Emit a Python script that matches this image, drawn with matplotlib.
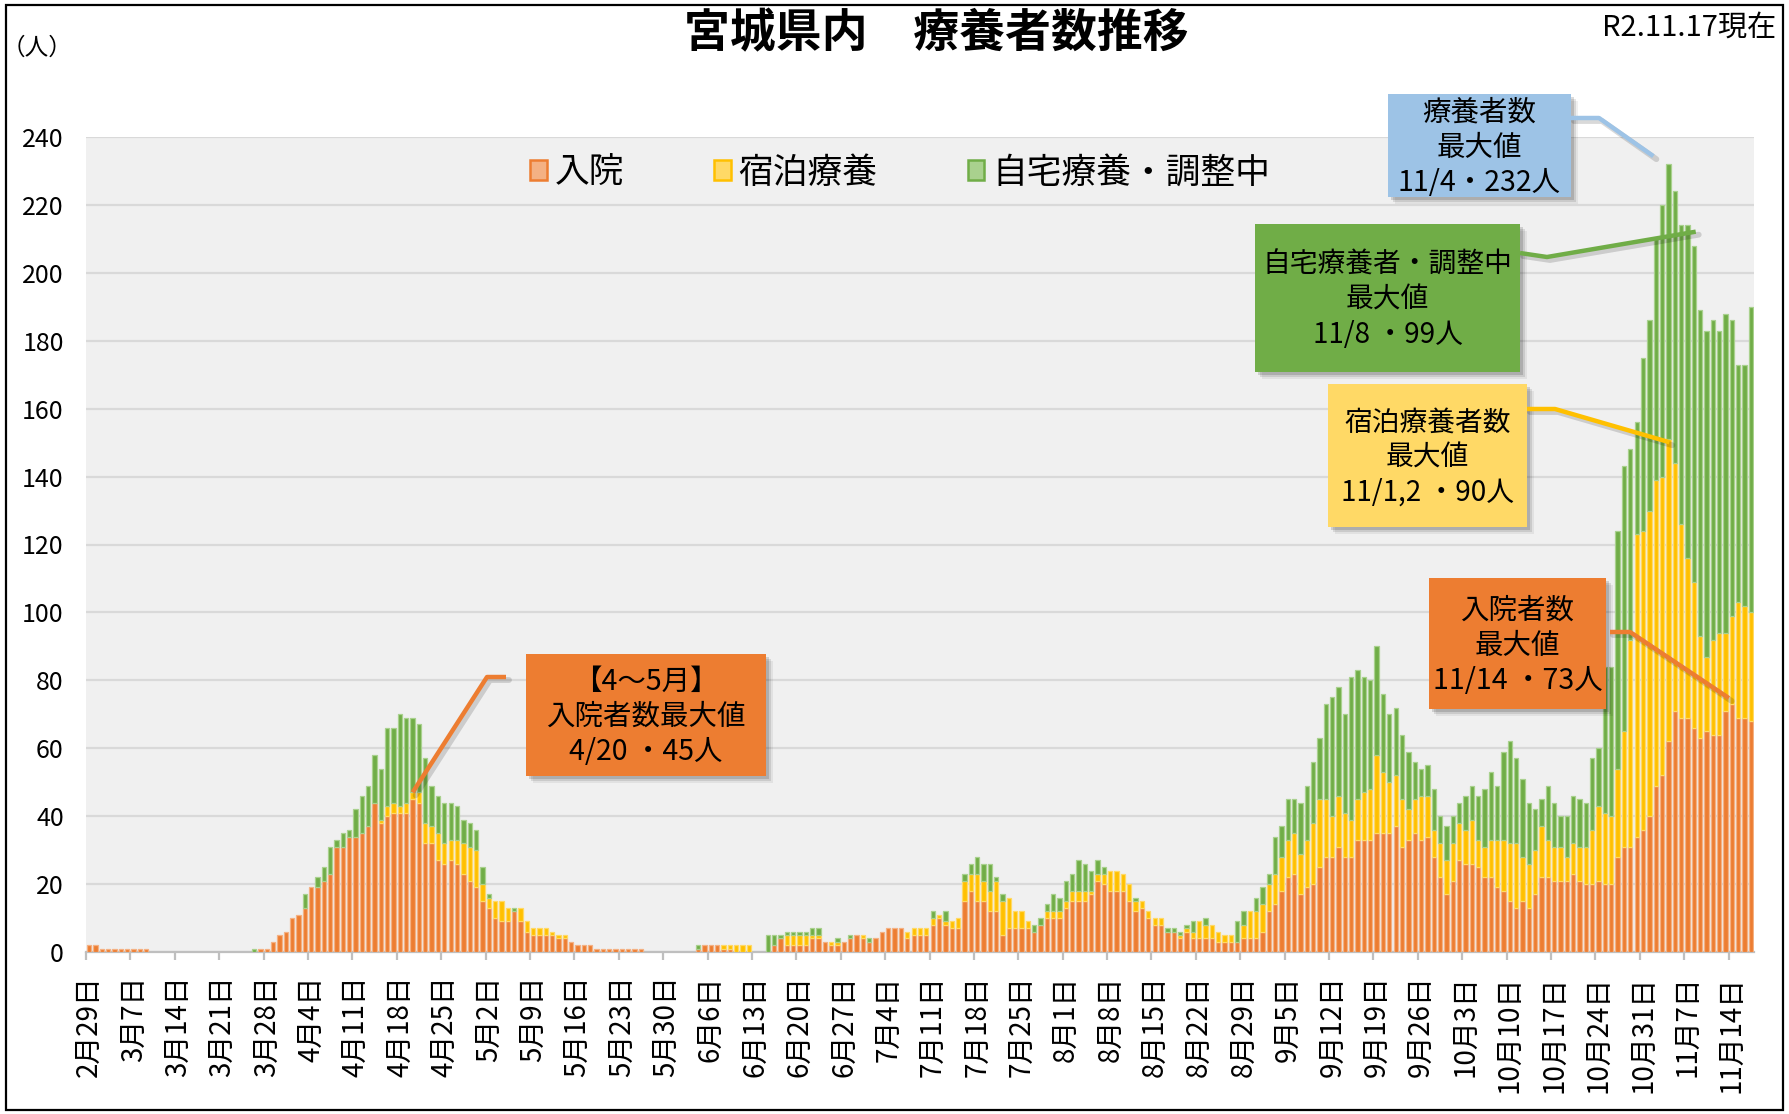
import numpy as np
import pandas as pd
import matplotlib
matplotlib.use("Agg")
import matplotlib.pyplot as plt
from matplotlib.patches import Rectangle, Patch
from matplotlib.lines import Line2D

plt.rcParams['font.family'] = ['Noto Sans CJK JP', 'DejaVu Sans']

# ---------------- data ----------------
start_date = "2020-02-29"
end_date = "2020-11-17"
series_names = ["入院", "宿泊療養", "自宅療養・調整中"]

hospital = (
    [2]  # Feb 29
    + [2, 1, 1, 1, 1, 1, 1, 1, 1, 0, 0, 0, 0, 0, 0, 0, 0, 0, 0, 0, 0, 0, 0, 0, 0, 0, 1, 1, 3, 5, 6]  # Mar
    + [10, 11, 13, 19, 19, 21, 23, 31, 31, 34, 34, 35, 37, 44, 38, 40, 41, 41, 41, 45,
       44, 32, 32, 27, 26, 27, 26, 23, 21, 19]  # Apr
    + [15, 13, 10, 9, 9, 12, 9, 6, 5, 5, 5, 5, 4, 4, 3, 2, 2, 2, 1, 1,
       1, 1, 1, 1, 1, 1, 0, 0, 0, 0, 0]  # May
    + [0, 0, 0, 1, 2, 2, 2, 1, 1, 0, 0, 0, 0, 0, 0, 2, 4, 2, 2, 2,
       2, 4, 4, 3, 2, 2, 3, 4, 5, 4]  # Jun
    + [3, 4, 6, 7, 7, 7, 4, 5, 5, 5, 8, 10, 8, 7, 7, 15, 18, 15, 15, 12,
       12, 5, 7, 7, 7, 7, 6, 8, 10, 10, 10]  # Jul
    + [13, 15, 15, 15, 17, 21, 20, 18, 18, 18, 15, 12, 13, 10, 8, 8, 6, 6, 4, 6,
       4, 4, 4, 4, 3, 3, 3, 3, 4, 4, 4]  # Aug
    + [6, 12, 14, 18, 22, 23, 17, 19, 20, 25, 28, 28, 31, 28, 28, 33, 33, 33, 35, 35,
       35, 37, 31, 33, 35, 33, 34, 28, 22, 17]  # Sep
    + [21, 27, 26, 26, 25, 22, 22, 19, 18, 15, 13, 15, 13, 17, 22, 22, 21, 21, 21, 23,
       21, 20, 20, 21, 20, 20, 28, 31, 31, 34, 36]  # Oct
    + [40, 49, 52, 62, 71, 69, 69, 66, 63, 65, 64, 64, 71, 73, 69, 69, 68]  # Nov
)

hotel = (
    [0]
    + [0] * 31
    + [0, 0, 0, 0, 0, 0, 0, 0, 0, 0, 0, 0, 0, 0, 1, 3, 3, 2, 3, 2,
       3, 6, 5, 8, 6, 6, 7, 9, 10, 11]
    + [5, 3, 5, 6, 4, 0, 4, 3, 2, 2, 2, 1, 1, 1, 0, 0, 0, 0, 0, 0,
       0, 0, 0, 0, 0, 0, 0, 0, 0, 0, 0]
    + [0, 0, 0, 0, 0, 0, 0, 1, 1, 2, 2, 2, 0, 0, 0, 0, 0, 3, 3, 3,
       3, 1, 1, 0, 1, 1, 0, 0, 0, 1]
    + [0, 0, 0, 0, 0, 0, 2, 2, 2, 2, 2, 1, 1, 2, 3, 6, 5, 8, 6, 6,
       9, 10, 9, 5, 5, 2, 0, 0, 2, 2, 2]
    + [2, 3, 3, 3, 1, 2, 3, 6, 6, 5, 5, 3, 2, 2, 2, 2, 0, 0, 1, 1,
       2, 5, 4, 4, 3, 2, 2, 0, 4, 8, 8]
    + [8, 8, 9, 10, 11, 12, 12, 14, 18, 20, 17, 12, 15, 13, 11, 12, 14, 15, 23, 18,
       15, 15, 14, 9, 10, 13, 12, 8, 10, 10]
    + [11, 11, 10, 13, 8, 9, 11, 14, 15, 17, 19, 13, 13, 13, 15, 11, 10, 10, 7, 9,
       10, 11, 16, 22, 21, 20, 26, 34, 61, 89, 88]
    + [90, 90, 88, 89, 73, 57, 47, 43, 30, 22, 28, 30, 23, 26, 34, 33, 32]
)

home = (
    [0]
    + [0] * 25 + [1] + [0] * 5
    + [0, 0, 4, 0, 3, 4, 8, 2, 4, 2, 8, 11, 12, 14, 15, 23, 22, 27, 25, 22,
       20, 19, 12, 11, 12, 11, 10, 7, 7, 6]
    + [5, 1, 0, 0, 0, 1, 0, 0, 0, 0, 0, 0, 0, 0, 0, 0, 0, 0, 0, 0,
       0, 0, 0, 0, 0, 0, 0, 0, 0, 0, 0]
    + [0, 0, 0, 1, 0, 0, 0, 0, 0, 0, 0, 0, 0, 0, 5, 3, 1, 1, 1, 1,
       1, 2, 2, 0, 0, 1, 0, 1, 0, 0]
    + [1, 0, 0, 0, 0, 0, 0, 0, 0, 0, 2, 0, 3, 0, 0, 2, 3, 5, 5, 8,
       1, 2, 0, 0, 0, 0, 2, 2, 2, 5, 4]
    + [6, 5, 9, 8, 6, 4, 2, 0, 0, 0, 0, 1, 0, 0, 0, 0, 1, 1, 1, 1,
       3, 0, 2, 0, 0, 0, 0, 6, 4, 0, 4]
    + [5, 3, 11, 9, 12, 10, 15, 16, 18, 18, 28, 35, 32, 29, 42, 38, 34, 32, 32, 23,
       20, 20, 19, 17, 11, 8, 9, 12, 8, 10]
    + [8, 6, 10, 10, 13, 17, 20, 16, 26, 30, 25, 23, 18, 12, 8, 16, 13, 9, 12, 14,
       14, 13, 21, 17, 43, 44, 70, 78, 56, 33, 51]
    + [56, 71, 80, 81, 80, 88, 98, 99, 96, 96, 94, 89, 94, 87, 70, 71, 90]
)

y_ticks = list(range(0, 241, 20))

# ---------------- setup ----------------
dates = pd.date_range(start_date, end_date, freq="D")
hosp = np.array(hospital, dtype=float)
hot = np.array(hotel, dtype=float)
hom = np.array(home, dtype=float)
n = len(dates)
assert len(hosp) == n and len(hot) == n and len(hom) == n
x = np.arange(n)
total = hosp + hot + hom

W, H = 1790, 1114
fig = plt.figure(figsize=(W / 100, H / 100), dpi=100)
fig.patch.set_facecolor("white")


def fx(px):
    return px / W


def fy(py):
    return 1 - py / H


ax = fig.add_axes([fx(86), fy(952), fx(1754) - fx(86), fy(137) - fy(952)])
ax.set_facecolor("#F0F0F0")

colors = ["#ED7D31", "#FFC000", "#70AD47"]
edges = ["#F4B183", "#FFD966", "#A9D18E"]
bw = 0.68

bottoms = [np.zeros(n), hosp, hosp + hot]
for vals, bot, c, e in zip([hosp, hot, hom], bottoms, colors, edges):
    m = vals > 0
    ax.bar(x[m], vals[m], bottom=bot[m], width=bw, color=c, edgecolor=e,
           linewidth=0.9, zorder=3)

ax.set_xlim(-0.5, n - 0.5)
ax.set_ylim(0, 240)
ax.set_yticks(y_ticks)
ax.yaxis.grid(True, color="#D9D9D9", linewidth=1.6, zorder=0)
ax.set_axisbelow(True)
for s in ["left", "top", "right"]:
    ax.spines[s].set_visible(False)
ax.spines["bottom"].set_color("#BFBFBF")
ax.spines["bottom"].set_linewidth(1.6)
ax.tick_params(axis="y", length=0, pad=16, labelsize=18)

lab_idx = np.arange(0, n, 7)
ax.set_xticks(lab_idx)
ax.set_xticklabels([f"{d.month}月{d.day}日" for d in dates[lab_idx]],
                   rotation=90, fontsize=20)
ax.set_xticks(lab_idx - 0.5, minor=True)
ax.tick_params(axis="x", which="major", length=0, pad=17)
ax.tick_params(axis="x", which="minor", length=6, color="#BFBFBF", width=1.6)

# ---------------- texts ----------------
fig.text(fx(936), fy(34), "宮城県内　療養者数推移", ha="center", va="center",
         fontsize=33, fontweight="bold")
fig.text(fx(1776), fy(28), "R2.11.17現在", ha="right", va="center", fontsize=21)
fig.text(fx(37), fy(48), "（人）", ha="center", va="center", fontsize=17)

handles = [Patch(facecolor=e, edgecolor=c, linewidth=1.8) for c, e in zip(colors, edges)]
fig.legend(handles, series_names, loc="center", bbox_to_anchor=(fx(900), fy(173)),
           ncol=3, frameon=False, fontsize=25, handlelength=0.48, handleheight=0.48,
           handletextpad=0.22, columnspacing=2.6)

# border
fig.add_artist(Rectangle((fx(6), fy(1110)), fx(1783) - fx(6), fy(5) - fy(1110),
                         transform=fig.transFigure, fill=False, edgecolor="black",
                         linewidth=1.6, zorder=10))


def add_box(x0, y0, x1, y1, color, text, fs=20.5):
    for off, al in [(7, 0.06), (5, 0.10), (3, 0.14)]:
        fig.add_artist(Rectangle((fx(x0 + off), fy(y1 + off)), fx(x1) - fx(x0),
                                 fy(y0) - fy(y1), transform=fig.transFigure,
                                 facecolor="black", edgecolor="none", alpha=al, zorder=4))
    fig.add_artist(Rectangle((fx(x0), fy(y1)), fx(x1) - fx(x0), fy(y0) - fy(y1),
                             transform=fig.transFigure, facecolor=color,
                             edgecolor="none", zorder=5))
    fig.text(fx((x0 + x1) / 2), fy((y0 + y1) / 2 + 2), text, ha="center", va="center",
             fontsize=fs, linespacing=1.22, zorder=6)


def add_leader(p0, p1, target, off, color, lw=3.2):
    tx, ty = ax.transData.transform(target)
    tx += off[0]
    ty -= off[1]
    xs = [fx(p0[0]), fx(p1[0]), tx / W]
    ys = [fy(p0[1]), fy(p1[1]), ty / H]
    fig.add_artist(Line2D([v + 3 / W for v in xs], [v - 3 / H for v in ys],
                          transform=fig.transFigure, color="black", alpha=0.15,
                          linewidth=lw + 1, zorder=4, solid_capstyle="round"))
    fig.add_artist(Line2D(xs, ys, transform=fig.transFigure, color=color,
                          linewidth=lw, zorder=5, solid_capstyle="butt"))


def md(i):
    return f"{dates[i].month}/{dates[i].day}"


# max values computed from data
i_tot = int(np.argmax(total))
i_home = int(np.argmax(hom))
hot_max = hot.max()
i_hot = [i for i in range(n) if hot[i] == hot_max]
i_hosp = int(np.argmax(hosp))
spring = (dates >= "2020-04-01") & (dates <= "2020-05-31")
i_spr = int(np.where(spring)[0][np.argmax(hosp[spring])])

fig.canvas.draw()

# total
add_box(1388, 94, 1571, 197, "#9DC3E6",
        f"療養者数\n最大値\n{md(i_tot)}・{int(total[i_tot])}人")
add_leader((1571, 118), (1599, 118), (i_tot, total[i_tot]), (-15, -8), "#9DC3E6")

# home
add_box(1255, 224, 1520, 372, "#70AD47",
        f"自宅療養者・調整中\n最大値\n{md(i_home)} ・{int(hom[i_home])}人", fs=20)
add_leader((1520, 253), (1547, 257), (i_home, total[i_home]), (2, -14), "#70AD47")

# hotel
hot_dates = f"{dates[i_hot[0]].month}/" + ",".join(str(dates[i].day) for i in i_hot)
i_hot_pt = i_hot[-1] + 2
add_box(1328, 384, 1527, 527, "#FFD966",
        f"宿泊療養者数\n最大値\n{hot_dates} ・{int(hot_max)}人", fs=20)
add_leader((1527, 409), (1555, 409), (i_hot_pt, hosp[i_hot_pt] + hot[i_hot_pt]),
           (1, 3), "#FFC000")

# hospital (Nov)
add_box(1429, 578, 1606, 709, "#ED7D31",
        f"入院者数\n最大値\n{md(i_hosp)} ・{int(hosp[i_hosp])}人")
add_leader((1610, 632), (1630, 632), (i_hosp, hosp[i_hosp]), (-3, -6), "#ED7D31")

# hospital (Apr-May)
add_box(526, 654, 766, 776, "#ED7D31",
        f"【4～5月】\n入院者数最大値\n{md(i_spr)} ・{int(hosp[i_spr])}人")
add_leader((506, 677), (487, 677), (i_spr, hosp[i_spr] + hot[i_spr]), (0, 0), "#ED7D31")

fig.savefig("out.png", dpi=100)
